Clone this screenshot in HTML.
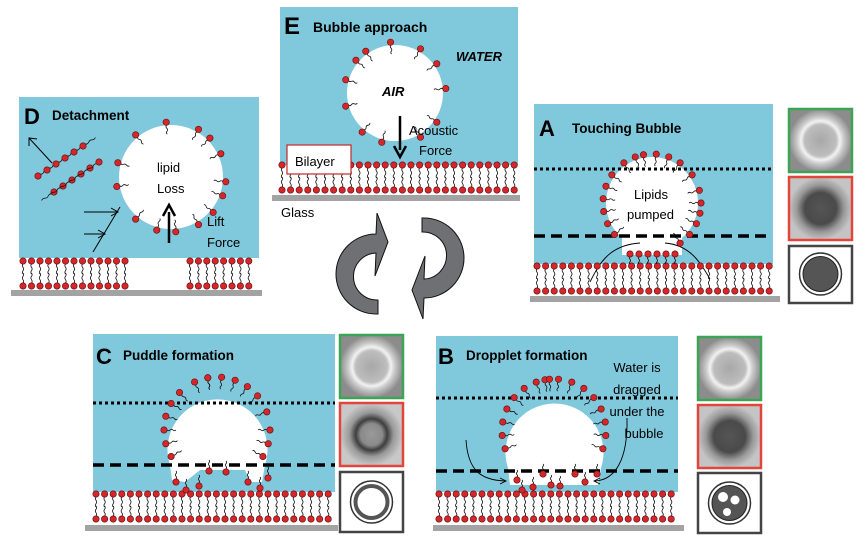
<!DOCTYPE html>
<html><head><meta charset="utf-8">
<style>
html,body{margin:0;padding:0;background:#fff;}
svg{display:block;}
text{font-family:"Liberation Sans",sans-serif;}
</style></head>
<body>
<svg id="s" width="868" height="545" viewBox="0 0 868 545" xmlns="http://www.w3.org/2000/svg">
<defs>
<radialGradient id="gG" cx="50%" cy="50%" r="50%">
<stop offset="0" stop-color="#a8a8a8"/><stop offset="0.5" stop-color="#bdbdbd"/><stop offset="0.62" stop-color="#f2f2f2"/><stop offset="0.75" stop-color="#c8c8c8"/><stop offset="1" stop-color="#8c8c8c"/>
</radialGradient>
<radialGradient id="gR" cx="50%" cy="50%" r="50%">
<stop offset="0" stop-color="#555"/><stop offset="0.5" stop-color="#4a4a4a"/><stop offset="0.75" stop-color="#999"/><stop offset="1" stop-color="#c4c4c4"/>
</radialGradient>
<radialGradient id="gRc" cx="50%" cy="50%" r="50%">
<stop offset="0" stop-color="#9a9a9a"/><stop offset="0.35" stop-color="#8a8a8a"/><stop offset="0.5" stop-color="#3e3e3e"/><stop offset="0.7" stop-color="#999"/><stop offset="1" stop-color="#c8c8c8"/>
</radialGradient>
</defs>

<!-- E panel -->
<rect x="280" y="7" width="238" height="158" fill="#80c8dc"/>
<rect x="272" y="195" width="248" height="6" fill="#a3a3a3"/>
<circle cx="395" cy="93" r="48" fill="#fff"/>
<g id="lipE"></g>
<text x="284" y="34" font-size="24" font-weight="bold">E</text>
<text x="313" y="32" font-size="14" font-weight="bold">Bubble  approach</text>
<text x="456" y="61" font-size="13" font-weight="bold" font-style="italic">WATER</text>
<text x="382" y="96" font-size="13" font-weight="bold" font-style="italic">AIR</text>
<line x1="400" y1="116" x2="400" y2="150" stroke="#000" stroke-width="2.5"/>
<path d="M394,146 L400,157 L406,146" fill="none" stroke="#000" stroke-width="2.5"/>
<text x="409" y="135" font-size="13">Acoustic</text>
<text x="419" y="155" font-size="13">Force</text>
<rect x="287" y="145" width="64" height="29" fill="#fff" stroke="#c0282a" stroke-width="1.2"/>
<text x="295" y="166" font-size="13">Bilayer</text>
<text x="281" y="217" font-size="13">Glass</text>

<!-- D panel -->
<rect x="19" y="97" width="240" height="161" fill="#80c8dc"/>
<rect x="11" y="290" width="251" height="6" fill="#a3a3a3"/>
<circle cx="171" cy="177" r="52" fill="#fff"/>
<text x="24" y="124" font-size="22" font-weight="bold">D</text>
<text x="52" y="120" font-size="13.5" font-weight="bold">Detachment</text>
<text x="157" y="172" font-size="13">lipid</text>
<text x="157" y="193" font-size="13">Loss</text>
<line x1="169" y1="243" x2="169" y2="212" stroke="#000" stroke-width="2.5"/>
<path d="M163,216 L169,205 L175,216" fill="none" stroke="#000" stroke-width="2.5"/>
<text x="207" y="226" font-size="13">Lift</text>
<text x="207" y="247" font-size="13">Force</text>
<line x1="52" y1="163" x2="29" y2="138" stroke="#000" stroke-width="1"/>
<path d="M29,146 L29,138 L37,139" fill="none" stroke="#000" stroke-width="1"/>
<path d="M93,252 L120,207" stroke="#000" stroke-width="1" fill="none"/>
<line x1="84" y1="212" x2="118" y2="212" stroke="#000"/><path d="M111,208 L118,212 L111,216" fill="none" stroke="#000"/>
<line x1="84" y1="234" x2="105" y2="234" stroke="#000"/><path d="M98,230 L105,234 L98,238" fill="none" stroke="#000"/>
<g id="lipD"></g>

<!-- A panel -->
<rect x="534" y="104" width="239" height="160" fill="#80c8dc"/>
<rect x="530" y="296" width="250" height="6" fill="#a3a3a3"/>
<circle cx="652" cy="203" r="46" fill="#fff"/>
<rect x="622" y="235" width="60" height="20" fill="#fff"/>
<line x1="534" y1="169" x2="771" y2="169" stroke="#000" stroke-width="3" stroke-dasharray="3,3"/>
<line x1="534" y1="236" x2="771" y2="236" stroke="#000" stroke-width="3.5" stroke-dasharray="11,6"/>
<text x="539" y="136" font-size="22" font-weight="bold">A</text>
<text x="572" y="133" font-size="13.5" font-weight="bold">Touching Bubble</text>
<text x="634" y="199" font-size="13">Lipids</text>
<text x="627" y="219" font-size="13">pumped</text>
<path d="M590,282 C600,262 610,245 640,243" fill="none" stroke="#000" stroke-width="0.9"/>
<path d="M710,279 C700,262 690,245 665,243" fill="none" stroke="#000" stroke-width="0.9"/>
<g id="lipA"></g>

<!-- C panel -->
<rect x="93" y="334" width="242" height="158" fill="#80c8dc"/>
<rect x="85" y="525" width="253" height="6" fill="#a3a3a3"/>
<path d="M170,465 A50,50 0 1 1 265,465 L262,482 L250,482 L245,470 L200,470 L185,482 L172,480 Z" fill="#fff"/>
<line x1="93" y1="403" x2="335" y2="403" stroke="#000" stroke-width="3" stroke-dasharray="3,3"/>
<line x1="93" y1="465" x2="335" y2="465" stroke="#000" stroke-width="3.5" stroke-dasharray="11,6"/>
<text x="96" y="364" font-size="22" font-weight="bold">C</text>
<text x="123" y="360" font-size="13.5" font-weight="bold">Puddle formation</text>
<g id="lipC"></g>

<!-- B panel -->
<rect x="436" y="336" width="242" height="156" fill="#80c8dc"/>
<rect x="433" y="525" width="251" height="6" fill="#a3a3a3"/>
<path d="M508,468 A49,49 0 1 1 601,468 L598,485 L510,485 Z" fill="#fff"/>
<line x1="436" y1="398" x2="678" y2="398" stroke="#000" stroke-width="3" stroke-dasharray="3,3"/>
<line x1="436" y1="471" x2="678" y2="471" stroke="#000" stroke-width="3.5" stroke-dasharray="11,6"/>
<text x="438" y="364" font-size="22" font-weight="bold">B</text>
<text x="466" y="360" font-size="13.5" font-weight="bold">Dropplet formation</text>
<text x="637" y="372" font-size="13" text-anchor="middle">Water is</text>
<text x="637" y="394" font-size="13" text-anchor="middle">dragged</text>
<text x="637" y="416" font-size="13" text-anchor="middle">under  the</text>
<text x="644" y="438" font-size="13" text-anchor="middle">bubble</text>
<path d="M466,440 C468,470 480,480 505,481" fill="none" stroke="#000" stroke-width="0.9"/>
<path d="M500,478 L506,481 L500,484" fill="none" stroke="#000" stroke-width="0.9"/>
<path d="M627,418 C628,460 615,480 595,481" fill="none" stroke="#000" stroke-width="0.9"/>
<path d="M600,478 L594,481 L600,484" fill="none" stroke="#000" stroke-width="0.9"/>
<g id="lipB"></g>

<!-- circular arrows -->
<g fill="#6e7073" stroke="#111" stroke-width="1">
<path d="M376,234 A40,40 0 0 0 376,314 L378,314 L378,300 A23,23 0 0 1 376,253 L375,276 L388,242 L377,213 Z"/>
<path d="M376,234 A40,40 0 0 0 376,314 L378,314 L378,300 A23,23 0 0 1 376,253 L375,276 L388,242 L377,213 Z" transform="rotate(180 400 266)"/>
</g>

<!-- thumbnails A -->
<rect x="789" y="109" width="63" height="63" fill="url(#gG)" stroke="#3aa655" stroke-width="2.5"/>
<rect x="789" y="177" width="63" height="63" fill="url(#gR)" stroke="#e2453b" stroke-width="2.5"/>
<rect x="789" y="246" width="63" height="57" fill="#fff" stroke="#444" stroke-width="2.5"/>
<circle cx="820.5" cy="274" r="21" fill="#fff" stroke="#333" stroke-width="1.5"/>
<circle cx="820.5" cy="274" r="17.5" fill="#555" stroke="#222" stroke-width="1"/>
<!-- thumbnails C -->
<rect x="340" y="335" width="63" height="63" fill="url(#gG)" stroke="#3aa655" stroke-width="2.5"/>
<rect x="340" y="403" width="63" height="63" fill="url(#gRc)" stroke="#e2453b" stroke-width="2.5"/>
<rect x="340" y="472" width="63" height="60" fill="#fff" stroke="#444" stroke-width="2.5"/>
<circle cx="371.5" cy="502" r="21" fill="#fff" stroke="#333" stroke-width="1.5"/>
<circle cx="371.5" cy="502" r="16" fill="none" stroke="#555" stroke-width="4"/>
<!-- thumbnails B -->
<rect x="698" y="337" width="63" height="63" fill="url(#gG)" stroke="#3aa655" stroke-width="2.5"/>
<rect x="698" y="405" width="63" height="63" fill="url(#gR)" stroke="#e2453b" stroke-width="2.5"/>
<rect x="698" y="473" width="63" height="60" fill="#fff" stroke="#444" stroke-width="2.5"/>
<circle cx="729.5" cy="503" r="21" fill="#fff" stroke="#333" stroke-width="1.5"/>
<circle cx="729.5" cy="503" r="17.5" fill="#555" stroke="#222" stroke-width="1"/>
<circle cx="723" cy="497" r="5" fill="#fff"/><circle cx="735" cy="500" r="4.5" fill="#fff"/><circle cx="727" cy="512" r="4" fill="#fff"/>
</svg>
<script>
var NS="http://www.w3.org/2000/svg";
function el(g,t,a){var e=document.createElementNS(NS,t);for(var k in a)e.setAttribute(k,a[k]);g.appendChild(e);return e;}
function lipid(g,x,y,ang,len){
  len=len||11;
  var dx=Math.cos(ang),dy=Math.sin(ang),px=-dy,py=dx,d="M"+(x+dx*3).toFixed(1)+","+(y+dy*3).toFixed(1);
  for(var i=1;i<=3;i++){var t=3+len*i/3,w=(i%2?1.3:-1.3),tm=3+len*(i-0.5)/3;
    d+=" Q"+(x+dx*tm+px*w).toFixed(1)+","+(y+dy*tm+py*w).toFixed(1)+" "+(x+dx*t).toFixed(1)+","+(y+dy*t).toFixed(1);}
  el(g,"path",{d:d,fill:"none",stroke:"#111","stroke-width":"0.8"});
  el(g,"circle",{cx:x,cy:y,r:3.2,fill:"#d6262a",stroke:"#5a1010","stroke-width":"0.6"});
}
function bilayer(id,x1,x2,y,step,skip){
  var g=document.getElementById(id);
  for(var x=x1;x<=x2+0.1;x+=step){
    if(skip&&x>skip[0]&&x<skip[1])continue;
    lipid(g,x,y,Math.PI/2,10);lipid(g,x,y+25,-Math.PI/2,10);
  }
}
function bubble(id,cx,cy,r,angles){
  var g=document.getElementById(id);
  angles.forEach(function(a){var t=a*Math.PI/180;lipid(g,cx+Math.cos(t)*(r+3),cy+Math.sin(t)*(r+3),t+Math.PI,9);});
}
bilayer("lipE",282,518,165,8.6);
bubble("lipE",395,93,48,[-95,-60,-35,-5,35,60,105,130,165,195,220,-125]);
bilayer("lipD",23,128,261,8.5);bilayer("lipD",190,257,261,8.4);
bubble("lipD",171,177,52,[-95,-60,-45,-25,5,20,40,60,85,105,130,170,195,230]);
(function(){var g=document.getElementById("lipD");
 for(var i=0;i<6;i++){var x=38+i*9,y=176-i*6;lipid(g,x,y,-0.6,12);lipid(g,x+16,y+16,Math.PI-0.6,12);} })();
bilayer("lipA",537,771,266,8.6);
bubble("lipA",652,203,46,[-100,-85,-70,-55,-35,-15,0,12,25,40,55,140,155,170,185,200,215,235,250]);
(function(){var g=document.getElementById("lipA");for(var x=630;x<=680;x+=9)lipid(g,x,254,Math.PI/2,7);})();
bilayer("lipC",96,333,494,8.6);
bubble("lipC",217,430,50,[-100,-85,-70,-55,-40,-20,0,15,30,150,165,180,195,210,225,245,260]);
(function(){var g=document.getElementById("lipC");[[176,482],[186,490],[199,486],[209,471],[226,472],[248,482],[260,488],[268,478]].forEach(function(p){lipid(g,p[0],p[1],-Math.PI/2,8);});})();
bilayer("lipB",439,676,494,8.6);
bubble("lipB",554,431,49,[-100,-85,-70,-55,-40,-25,-10,5,20,160,175,190,205,220,235,250,265]);
(function(){var g=document.getElementById("lipB");[[517,480],[522,490],[533,487],[543,474],[551,485],[560,486],[575,474],[585,482],[597,474]].forEach(function(p){lipid(g,p[0],p[1],-Math.PI/2,7);});})();
</script>
</body></html>
